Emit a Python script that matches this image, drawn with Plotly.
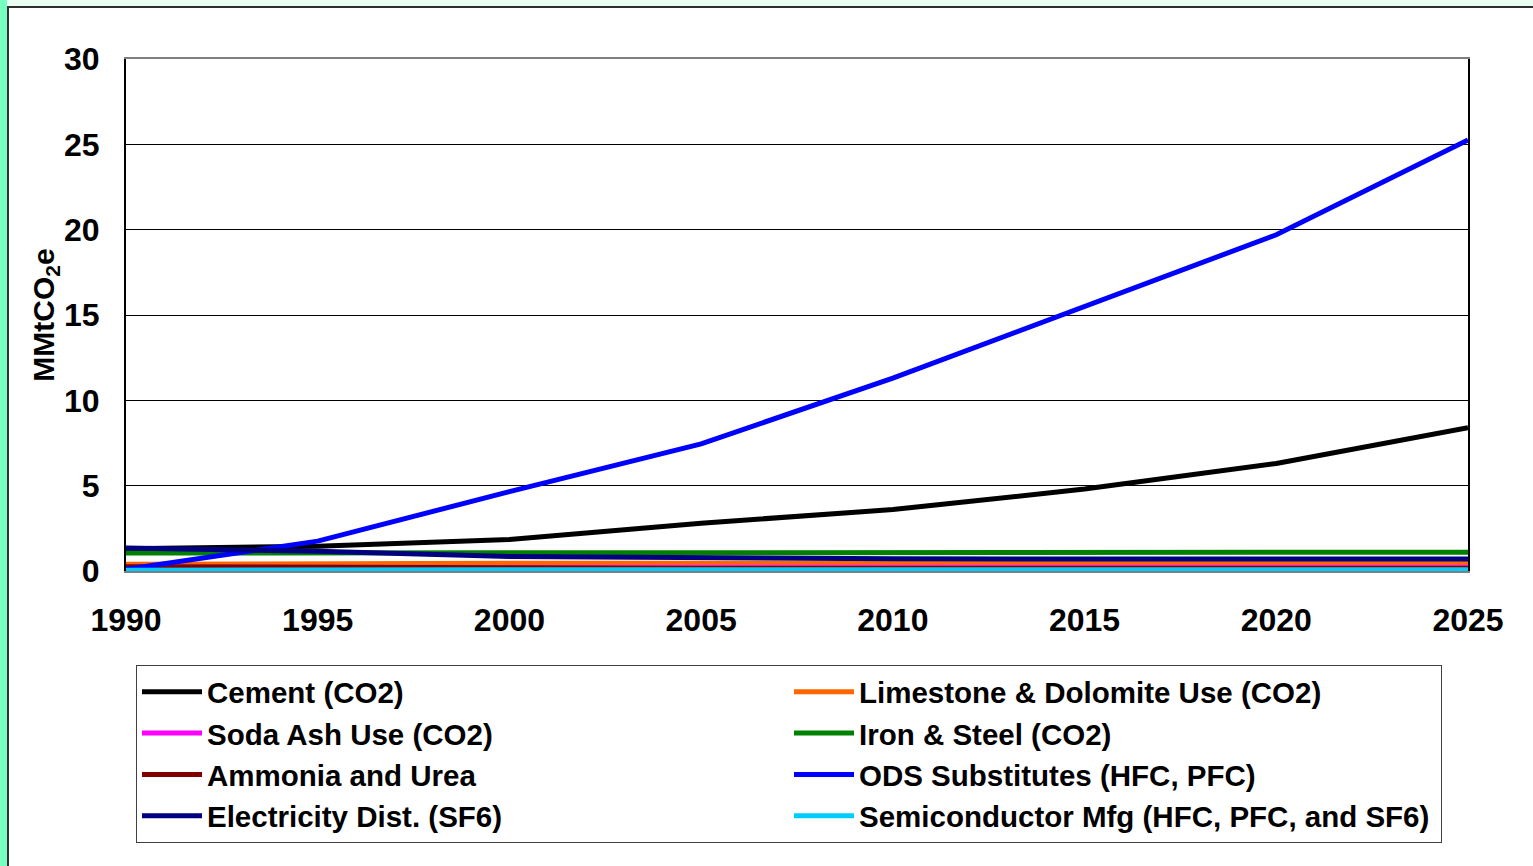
import plotly.graph_objects as go

# Industrial process emissions by source, 1990-2025 (MMtCO2e)
years = [1990, 1995, 2000, 2005, 2010, 2015, 2020, 2025]

cement = [1.30, 1.45, 1.85, 2.80, 3.60, 4.80, 6.30, 8.40]
limestone = [0.40, 0.45, 0.45, 0.45, 0.45, 0.45, 0.45, 0.45]
soda_ash = [0.22, 0.20, 0.20, 0.20, 0.20, 0.20, 0.20, 0.20]
iron_steel = [1.05, 1.05, 1.12, 1.08, 1.05, 1.05, 1.10, 1.10]
ammonia = [0.25, 0.20, 0.15, 0.15, 0.15, 0.15, 0.15, 0.15]
ods = [0.10, 1.75, 4.65, 7.45, 11.30, 15.50, 19.70, 25.25]
electricity = [1.35, 1.15, 0.85, 0.75, 0.72, 0.70, 0.70, 0.70]
semiconductor = [0.05, 0.08, 0.08, 0.08, 0.08, 0.08, 0.08, 0.08]

series = [
    ("Cement (CO2)", cement, "#000000"),
    ("Limestone & Dolomite Use (CO2)", limestone, "#FF6600"),
    ("Soda Ash Use (CO2)", soda_ash, "#FF00FF"),
    ("Iron & Steel (CO2)", iron_steel, "#008000"),
    ("Ammonia and Urea", ammonia, "#800000"),
    ("ODS Substitutes (HFC, PFC)", ods, "#0000FF"),
    ("Electricity Dist. (SF6)", electricity, "#000080"),
    ("Semiconductor Mfg (HFC, PFC, and SF6)", semiconductor, "#00CCFF"),
]

fig = go.Figure()
for name, vals, color in series:
    fig.add_trace(go.Scatter(
        x=years, y=vals, name=name, mode="lines",
        line=dict(color=color, width=5),
    ))

W, H = 1533, 866
L, R, T, B = 126, 65, 59, 295
pw, ph = W - L - R, H - T - B


def px_x(p):
    return (p - L) / pw


def px_y(p):
    return (H - B - p) / ph


font = "Liberation Sans, Arial, sans-serif"

fig.update_layout(
    width=W, height=H,
    margin=dict(l=L, r=R, t=T, b=B, autoexpand=False),
    paper_bgcolor="#EAFDF2",
    plot_bgcolor="white",
    font=dict(family=font, color="black", size=28),
    showlegend=True,
    legend=dict(
        orientation="h",
        x=px_x(136), y=px_y(665), xanchor="left", yanchor="top",
        xref="paper", yref="paper",
        entrywidth=577, entrywidthmode="pixels",
        bordercolor="#404040", borderwidth=1, bgcolor="white",
        font=dict(family=font, size=29.5, color="black", weight="bold"),
        itemwidth=60,
        traceorder="normal",
    ),
    shapes=[
        # white panel with dark outline
        dict(type="rect", xref="paper", yref="paper", layer="below",
             x0=px_x(8), x1=px_x(1560), y0=px_y(900), y1=px_y(7),
             fillcolor="white", line=dict(color="#303030", width=2)),
        # left-hand green strip
        dict(type="rect", xref="paper", yref="paper", layer="below",
             x0=px_x(-5), x1=px_x(7), y0=px_y(900), y1=px_y(-5),
             fillcolor="#77FFBF", line=dict(width=0)),
    ],
)

fig.update_xaxes(
    range=[1990, 2025], dtick=5, tick0=1990,
    showgrid=False, zeroline=False,
    showline=True, linecolor="#808080", linewidth=2, mirror=True,
    ticks="", ticklabelstandoff=20,
    tickfont=dict(family=font, size=32, color="black", weight="bold"),
)
fig.update_yaxes(
    range=[0, 30], dtick=5, tick0=0,
    showgrid=True, gridcolor="black", gridwidth=1, zeroline=False,
    showline=True, linecolor="black", linewidth=2, mirror=True,
    ticks="", ticklabelstandoff=18,
    tickfont=dict(family=font, size=32, color="black", weight="bold"),
    title=dict(text="MMtCO<sub>2</sub>e", standoff=0,
               font=dict(family=font, size=30, color="black", weight="bold")),
)

fig.write_html("out.html")
